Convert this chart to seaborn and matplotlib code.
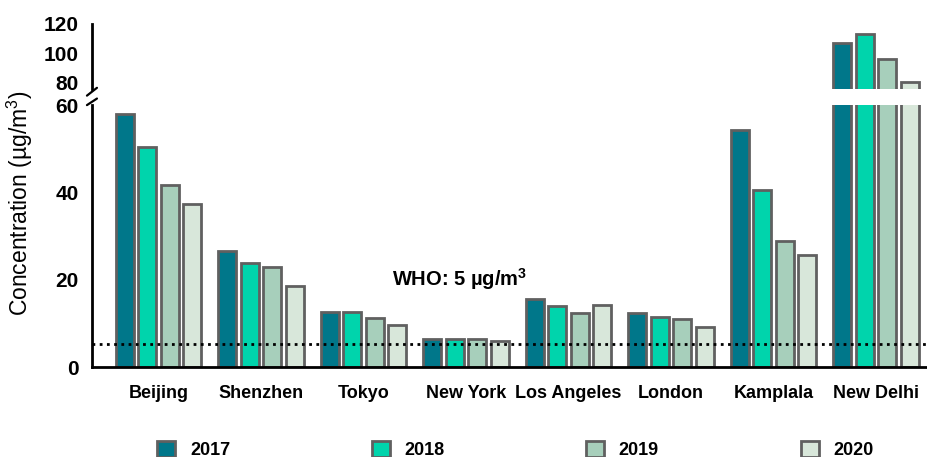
import numpy as np
import pandas as pd
import matplotlib
matplotlib.use("Agg")
import matplotlib.pyplot as plt
import seaborn as sns

# values (PM2.5, ug/m3)
cities = ["Beijing", "Shenzhen", "Tokyo", "New York", "Los Angeles",
          "London", "Kamplala", "New Delhi"]
years = ["2017", "2018", "2019", "2020"]
pm_2017 = [58.0, 26.6, 12.7, 6.4, 15.6, 12.4, 54.2, 107.2]
pm_2018 = [50.4, 23.9, 12.7, 6.5, 14.0, 11.6, 40.5, 113.0]
pm_2019 = [41.7, 23.0, 11.4, 6.5, 12.4, 11.0, 28.9, 96.1]
pm_2020 = [37.3, 18.6, 9.7, 6.1, 14.3, 9.2, 25.8, 80.2]
who_level = 5.3

colors = ["#00778A", "#00D4AC", "#A7CFBB", "#D8E7DA"]
edge = "#606060"

df = pd.DataFrame({
    "city": cities * 4,
    "year": [y for y in years for _ in cities],
    "value": pm_2017 + pm_2018 + pm_2019 + pm_2020,
})

sns.set_style("white")
plt.rcParams["font.family"] = ["Liberation Sans", "DejaVu Sans"]
plt.rcParams["text.color"] = "black"
plt.rcParams["xtick.color"] = "black"
plt.rcParams["ytick.color"] = "black"
plt.rcParams["mathtext.fontset"] = "custom"
plt.rcParams["mathtext.rm"] = "Liberation Sans"
plt.rcParams["mathtext.bf"] = "Liberation Sans:bold"

fig = plt.figure(figsize=(9.27, 4.57), dpi=100)
ax_top = fig.add_axes([0.0992, 0.805, 0.9, 0.1425])
ax = fig.add_axes([0.0992, 0.196, 0.9, 0.574])

for a in (ax_top, ax):
    sns.barplot(data=df, x="city", y="value", hue="year", palette=colors,
                width=0.88, gap=0.2, edgecolor=edge, linewidth=2,
                saturation=1, ax=a)
    a.set_xlim(-0.65, 7.49)
    a.set_xlabel("")
    a.set_ylabel("")
    a.get_legend().remove()
    for s in ("top", "right"):
        a.spines[s].set_visible(False)
    a.spines["left"].set_linewidth(2)
    a.spines["bottom"].set_linewidth(2)
    a.spines["left"].set_color("black")
    a.spines["bottom"].set_color("black")
    a.tick_params(axis="both", length=6, width=2, labelsize=15)

ax.set_ylim(0, 60)
ax.set_yticks([0, 20, 40, 60])
ax.tick_params(axis="x", labelsize=13, length=7, pad=6)
for lbl in ax.get_xticklabels() + ax.get_yticklabels():
    lbl.set_fontweight("bold")

ax_top.set_ylim(75.6, 120)
ax_top.set_yticks([80, 100, 120])
ax_top.spines["bottom"].set_visible(False)
ax_top.tick_params(axis="x", bottom=False, labelbottom=False)
for lbl in ax_top.get_yticklabels():
    lbl.set_fontweight("bold")

# WHO guideline
ax.axhline(who_level, color="black", ls=(0, (1, 1.6)), lw=2)
ax.text(2.28, 20.3, "WHO: 5 µg/m$^\\mathbf{3}$", fontsize=14.5,
        fontweight="bold", va="center", ha="left")

# break marks
d = dict(color="black", lw=1.6, clip_on=False)
ax_top.plot([-0.006, 0.006], [-0.10, 0.02], transform=ax_top.transAxes, **d)
ax.plot([-0.006, 0.006], [1.0, 1.025], transform=ax.transAxes, **d)

fig.text(0.022, 0.555, "Concentration (µg/m$^\\mathrm{3}$)", rotation=90,
         va="center", ha="center", fontsize=16.5)

handles, labels = ax.get_legend_handles_labels()
fig.legend(handles, labels, loc="center", ncol=4, mode="expand",
           bbox_to_anchor=(0.162, 0.016, 0.788, 0.0), frameon=False,
           borderaxespad=0, handlelength=1, handleheight=1,
           handletextpad=0.8, prop={"size": 13, "weight": "bold"})

fig.savefig("out.png", dpi=100)
